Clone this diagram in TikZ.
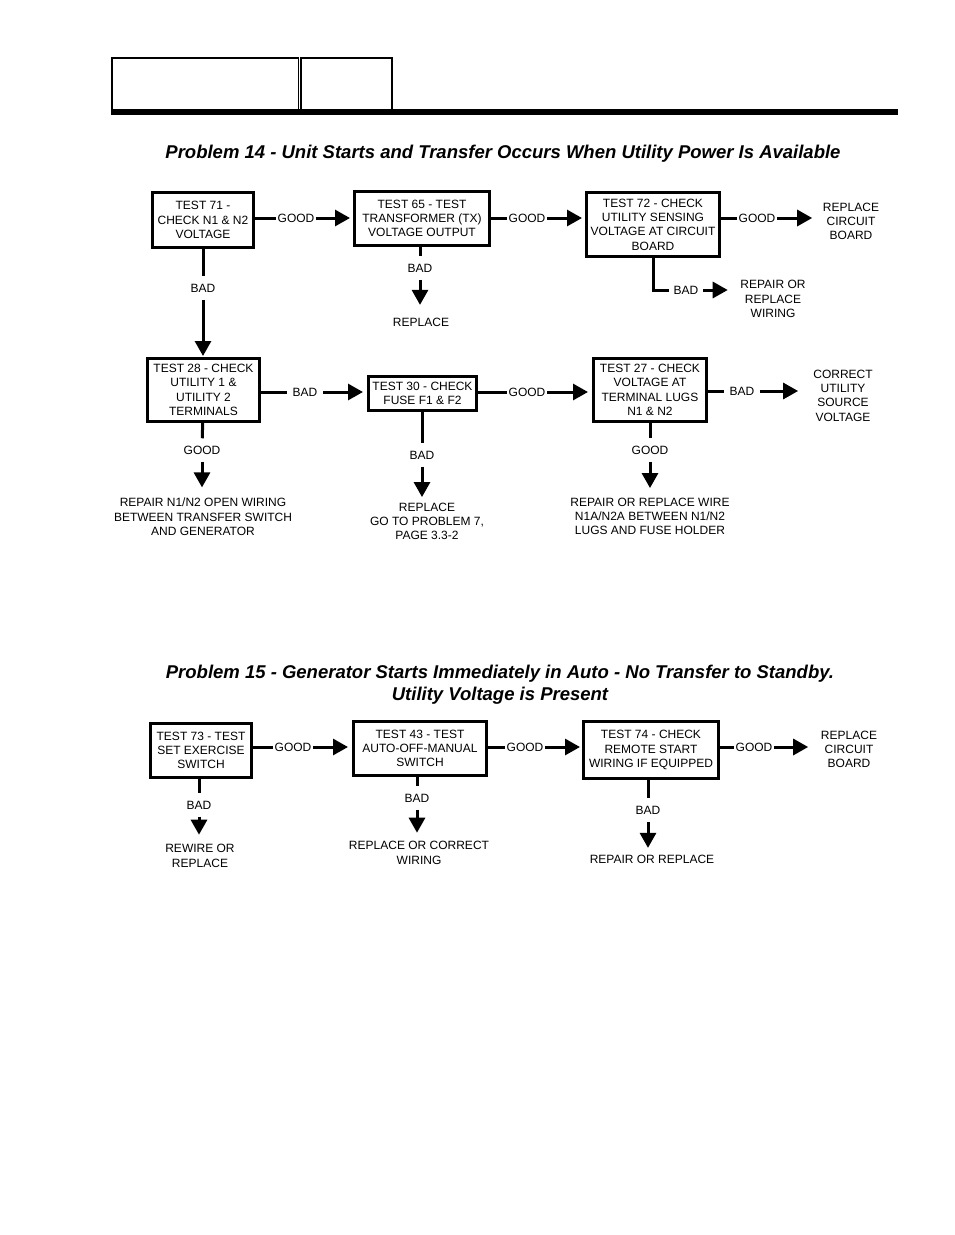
\documentclass[tikz,border=0pt]{standalone}
\usepackage{fontspec}
\setmainfont{Liberation Sans}
\usepackage{tikz}
\usetikzlibrary{positioning,arrows.meta}
\newcommand{\flowfont}{\fontsize{12}{14.3}\selectfont}
\newcommand{\headfont}{\fontsize{18.5}{22}\selectfont\bfseries\itshape}
\tikzset{
  testbox/.style={draw,line width=3pt,align=center,font=\flowfont,inner sep=0pt},
  outcome/.style={align=center,font=\flowfont,inner sep=0pt},
  cond/.style={font=\flowfont,inner sep=0pt,outer xsep=2pt,outer ysep=7.5pt},
  wire/.style={line width=3pt},
  flow/.style={wire,-{Triangle[length=15pt,width=16pt]}},
  heading/.style={font=\headfont,align=center,inner sep=0pt},
}

\begin{document}
\begin{tikzpicture}[x=1pt,y=-1pt]
  \fill[white] (0,0) rectangle (954,1235);
  \useasboundingbox (0,0) rectangle (954,1235);
  \draw[line width=1.6pt] (112,58) rectangle (298.5,110);
  \draw[line width=1.6pt] (301,58) rectangle (392,110);
  \fill (111.2,109) rectangle (898,115);

  \node[heading] (h14) at (503,154) {Problem 14 - Unit Starts and Transfer Occurs When Utility Power Is Available};

  \node[testbox,minimum width=101pt,minimum height=55pt] (t71) at (203,220) {TEST 71 -\\CHECK N1 \& N2\\VOLTAGE};
  \node[testbox,minimum width=135pt,minimum height=54pt] (t65) at (422,218.5) {TEST 65 - TEST\\TRANSFORMER (TX)\\VOLTAGE OUTPUT};
  \node[testbox,minimum width=133pt,minimum height=64pt] (t72) at (653,224.5) {TEST 72 - CHECK\\UTILITY SENSING\\VOLTAGE AT CIRCUIT\\BOARD};
  \node[testbox,minimum width=112pt,minimum height=63pt] (t28) at (203.5,390) {TEST 28 - CHECK\\UTILITY 1 \&\\UTILITY 2\\TERMINALS};
  \node[testbox,minimum width=108pt,minimum height=34pt] (t30) at (422.5,393.5) {TEST 30 - CHECK\\FUSE F1 \& F2};
  \node[testbox,minimum width=113pt,minimum height=63pt] (t27) at (650,390) {TEST 27 - CHECK\\VOLTAGE AT\\TERMINAL LUGS\\N1 \& N2};

  \node[cond] (g71) at (296,218) {GOOD};
  \node[cond] (g65) at (527,218) {GOOD};
  \node[cond] (g72) at (757,218) {GOOD};
  \node[cond] (b71) at (203,288) {BAD};
  \node[cond] (b65) at (420,268) {BAD};
  \node[cond,outer xsep=5pt] (b72) at (686,290) {BAD};
  \node[cond,outer xsep=6pt] (b28) at (305,392) {BAD};
  \node[cond] (g30) at (527,392) {GOOD};
  \node[cond,outer xsep=6pt] (b27) at (742,391) {BAD};
  \node[cond] (g28) at (202,450) {GOOD};
  \node[cond] (b30) at (422,455) {BAD};
  \node[cond] (g27) at (650,450) {GOOD};

  \node[outcome] (rcb1) at (851,221.5) {REPLACE\\CIRCUIT\\BOARD};
  \node[outcome] (rrw) at (773,299) {REPAIR OR\\REPLACE\\WIRING};
  \node[outcome] (rep65) at (421,322) {REPLACE};
  \node[outcome] (csv) at (843,395.5) {CORRECT\\UTILITY\\SOURCE\\VOLTAGE};
  \node[outcome] (rn) at (203,517) {REPAIR N1/N2 OPEN WIRING\\BETWEEN TRANSFER SWITCH\\AND GENERATOR};
  \node[outcome] (rgo) at (427,521.5) {REPLACE\\GO TO PROBLEM 7,\\PAGE 3.3-2};
  \node[outcome] (rw) at (650,516.5) {REPAIR OR REPLACE WIRE\\N1A/N2A BETWEEN N1/N2\\LUGS AND FUSE HOLDER};

  \draw[wire] (t71.east |- g71) -- (g71);
  \draw[flow,shorten >=3pt] (g71) -- (t65.west |- g71);
  \draw[wire] (t65.east |- g65) -- (g65);
  \draw[flow,shorten >=3pt] (g65) -- (t72.west |- g65);
  \draw[wire] (t72.east |- g72) -- (g72);
  \draw[flow,shorten >=10.6pt] (g72) -- (g72 -| rcb1.west);
  \draw[wire] (t71) -- (b71);
  \draw[flow,shorten >=1pt] (b71) -- (b71 |- t28.north);
  \draw[wire] (b65 |- t65.south) -- (b65);
  \draw[flow,shorten >=12.7pt] (b65) -- (b65 |- rep65.north);
  \draw[wire] (t72) |- (b72);
  \draw[flow,shorten >=12.5pt] (b72) -- (b72 -| rrw.west);

  \draw[wire] (t28.east |- b28) -- (b28);
  \draw[flow,shorten >=4pt] (b28) -- (t30.west |- b28);
  \draw[wire] (t30.east |- g30) -- (g30);
  \draw[flow,shorten >=4pt] (g30) -- (t27.west |- g30);
  \draw[wire] (t27.east |- b27) -- (b27);
  \draw[flow,shorten >=15pt] (b27) -- (b27 -| csv.west);
  \draw[wire] (t28) -- (g28);
  \draw[flow,shorten >=10.7pt] (g28) -- (g28 |- rn.north);
  \draw[wire] (b30 |- t30.south) -- (b30);
  \draw[flow,shorten >=5.7pt] (b30) -- (b30 |- rgo.north);
  \draw[wire] (g27 |- t27.south) -- (g27);
  \draw[flow,shorten >=9.7pt] (g27) -- (g27 |- rw.north);

  \node[heading] (h15) at (500,685) {Problem 15 - Generator Starts Immediately in Auto - No Transfer to Standby.\\Utility Voltage is Present};

  \node[testbox,minimum width=101pt,minimum height=54pt] (t73) at (201,750.5) {TEST 73 - TEST\\SET EXERCISE\\SWITCH};
  \node[testbox,minimum width=133pt,minimum height=54pt] (t43) at (420,748.5) {TEST 43 - TEST\\AUTO-OFF-MANUAL\\SWITCH};
  \node[testbox,minimum width=135pt,minimum height=57pt] (t74) at (651,750) {TEST 74 - CHECK\\REMOTE START\\WIRING IF EQUIPPED};

  \node[cond] (g73) at (293,747) {GOOD};
  \node[cond] (g43) at (525,747) {GOOD};
  \node[cond] (g74) at (754,747) {GOOD};
  \node[cond] (b73) at (199,805) {BAD};
  \node[cond] (b43) at (417,798) {BAD};
  \node[cond] (b74) at (648,810) {BAD};

  \node[outcome] (rcb2) at (849,749.5) {REPLACE\\CIRCUIT\\BOARD};
  \node[outcome] (rr73) at (200,856) {REWIRE OR\\REPLACE};
  \node[outcome] (rc43) at (419,853) {REPLACE OR CORRECT\\WIRING};
  \node[outcome] (rr74) at (652,859) {REPAIR OR REPLACE};

  \draw[wire] (t73.east |- g73) -- (g73);
  \draw[flow,shorten >=4pt] (g73) -- (t43.west |- g73);
  \draw[wire] (t43.east |- g43) -- (g43);
  \draw[flow,shorten >=2pt] (g43) -- (t74.west |- g43);
  \draw[wire] (t74.east |- g74) -- (g74);
  \draw[flow,shorten >=12.6pt] (g74) -- (g74 -| rcb2.west);
  \draw[wire] (b73 |- t73.south) -- (b73);
  \draw[flow,shorten >=9.7pt] (b73) -- (b73 |- rr73.north);
  \draw[wire] (b43 |- t43.south) -- (b43);
  \draw[flow,shorten >=8.7pt] (b43) -- (b43 |- rc43.north);
  \draw[wire] (b74 |- t74.south) -- (b74);
  \draw[flow,shorten >=6.7pt] (b74) -- (b74 |- rr74.north);
\end{tikzpicture}
\end{document}
